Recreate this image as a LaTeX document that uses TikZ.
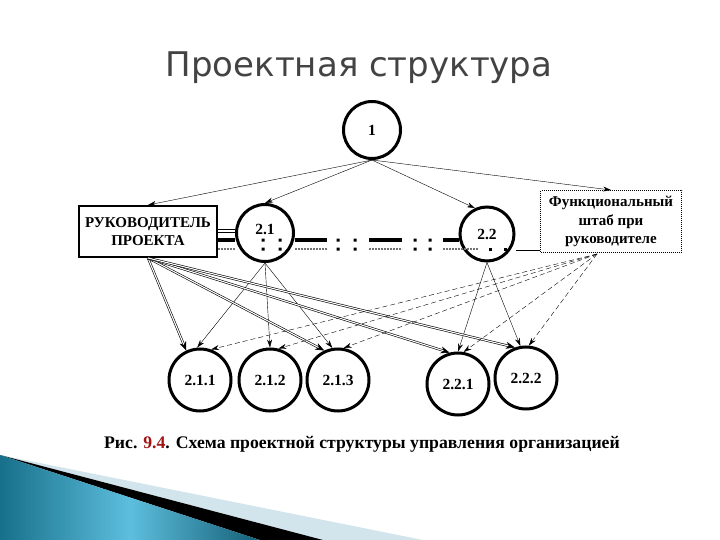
\documentclass[tikz,border=0pt]{standalone}
\usepackage{fontspec}
\setmainfont{Liberation Serif}
\newfontfamily\titlefont{DejaVu Sans}
\usetikzlibrary{arrows.meta}
\definecolor{titlegray}{HTML}{434343}
\definecolor{figred}{HTML}{A01414}
\definecolor{tealdark}{HTML}{17708A}
\definecolor{teallight}{HTML}{5DBEDD}
\definecolor{stripelight}{HTML}{D3E5EC}

\begin{document}
\begin{tikzpicture}[x=1pt, y=-1pt,
	unit/.style={draw, circle, line width=3pt, inner sep=0pt, font=\bfseries\fontsize{15.5}{15.5}\selectfont},
	headbox/.style={draw, line width=2pt, inner sep=1pt, minimum width=138pt, minimum height=51pt, align=center, font=\bfseries\fontsize{15}{18}\selectfont},
	staffbox/.style={draw, densely dotted, line width=1pt, inner sep=1pt, minimum width=141pt, minimum height=62pt, align=center, font=\bfseries\fontsize{15}{18.5}\selectfont},
	thinarrow/.style={thin, -{Stealth[length=8pt, width=5pt]}},
	duplarrow/.style={double, double distance=1.1pt, line width=0.6pt, -{Stealth[length=9pt, width=7pt]}},
	dasharrow/.style={thin, dash pattern=on 5pt off 3pt, -{Stealth[length=8pt, width=5pt]}},
	bandthick/.style={line width=3.5pt},
	bandthin/.style={line width=2pt, black!55, densely dotted},
	bandpair/.style={line width=0.7pt, double, double distance=1.6pt}]
	\useasboundingbox (0,0) rectangle (720,540);

	\fill[stripelight] (0,455) -- (423,540) -- (323,540) -- cycle;
	\fill (0,455) -- (323,540) -- (260,540) -- cycle;
	\shade[left color=tealdark, right color=tealdark!85!black, middle color=teallight] (0,455) -- (260,540) -- (0,540) -- cycle;

	\node[text=titlegray, font=\titlefont\fontsize{34}{34}\selectfont] (title) at (359,68) {Проектная структура};

	\node[unit, minimum size=57pt] (n1) at (372,130) {1};
	\node[headbox] (ruk) at (148,231.5) {РУКОВОДИТЕЛЬ\\ПРОЕКТА};
	\node[unit, minimum size=57pt] (n21) at (265,233) {\raisebox{7pt}{2.1}};
	\node[unit, minimum size=54pt] (n22) at (487,234) {2.2};
	\node[staffbox] (staff) at (611,221.5) {Функциональный\\штаб при\\руководителе};
	\coordinate (sf) at (597,254);

	\node[unit, minimum size=62pt] (n211) at (200,380) {2.1.1};
	\node[unit, minimum size=62pt] (n212) at (270,380) {2.1.2};
	\node[unit, minimum size=62pt] (n213) at (338,380) {2.1.3};
	\node[unit, minimum size=62pt] (n221) at (458,384) {2.2.1};
	\node[unit, minimum size=62pt] (n222) at (526,378) {2.2.2};

	\node[font=\bfseries\fontsize{17.7}{17.7}\selectfont] (caption) at (362,444) {Рис. \textcolor{figred}{9.4}. Схема проектной структуры управления организацией};

	\draw[bandpair] (ruk.east |- 0,231) -- (n21.west |- 0,231);
	\draw[bandthick] (ruk.east |- 0,240) -- (n21.west |- 0,240);
	\draw[bandthin] (ruk.east |- 0,249) -- (n21.west |- 0,249);
	\draw[bandthick] (n21.east |- 0,240) -- (327,240);
	\draw[bandthick] (369,240) -- (402,240);
	\draw[bandthick] (443,240) -- (n22.west |- 0,240);
	\draw[bandthin] (n21.east |- 0,249) -- (327,249);
	\draw[bandthin] (369,249) -- (402,249);
	\draw[bandthin] (443,249) -- (478,249);
	\draw[bandpair] (n22.east |- 0,249) -- (staff.west |- 0,249);
	\foreach \x in {263,280,338,355,415,430}
		\fill (\x-1.5,238.5) rectangle ++(3,3)
			(\x-1.5,247.5) rectangle ++(3,3);
	\foreach \x in {490,505}
		\fill (\x-1.5,247.5) rectangle ++(3,3);

	\draw[thinarrow] (n1.south) -- (ruk.north);
	\draw[thinarrow] (n1.south) -- (n21.north);
	\draw[thinarrow] (n1.south) -- (n22.115);
	\draw[thinarrow] (n1.south) -- (staff.north);

	\draw[thinarrow] (n21.south) -- (n211.95);
	\draw[thinarrow] (n21.south) -- (n212.north);
	\draw[thinarrow] (n21.south) -- (n213.100);
	\draw[thinarrow] (n22.south) -- (n221.north);
	\draw[thinarrow] (n22.south) -- (n222.100);

	\draw[duplarrow] (ruk.south) -- (n211.115);
	\draw[duplarrow] (ruk.south) -- (n213.115);
	\draw[duplarrow] (ruk.south) -- (n221.105);
	\draw[duplarrow] (ruk.south) -- (n222.110);

	\draw[dasharrow] (sf) -- (n211.70);
	\draw[dasharrow] (sf) -- (n212.75);
	\draw[dasharrow] (sf) -- (n213.80);
	\draw[dasharrow] (sf) -- (n221.80);
	\draw[dasharrow] (sf) -- (n222.85);
\end{tikzpicture}
\end{document}
